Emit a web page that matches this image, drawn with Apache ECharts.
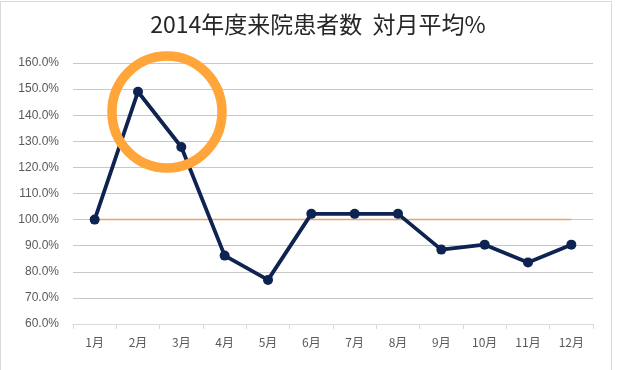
<!DOCTYPE html>
<html><head><meta charset="utf-8">
<script src="https://cdn.jsdelivr.net/npm/echarts@6/dist/echarts.min.js"></script>
<style>html,body{margin:0;padding:0;background:#fff}#c{width:636px;height:370px}</style>
</head><body><div id="c"></div>
<script>
const titleText = '2014年度来院患者数  対月平均%';
const months = ['1月','2月','3月','4月','5月','6月','7月','8月','9月','10月','11月','12月'];
const ratio = [100.0, 149.0, 127.8, 86.2, 76.9, 102.2, 102.2, 102.2, 88.5, 90.4, 83.6, 90.4];
const baseline = [100,100,100,100,100,100,100,100,100,100,100,100];
const yMin = 60, yMax = 160, yStep = 10;

const chart = echarts.init(document.getElementById('c'));
chart.setOption({
  animation: false,
  title: {
    text: titleText, left: 'center', top: 8,
    textStyle: {fontFamily: 'Noto Sans CJK JP', fontSize: 23, fontWeight: 'normal', color: '#262626'}
  },
  grid: {left: 73, right: 43, top: 63, bottom: 46},
  xAxis: {
    type: 'category', data: months, boundaryGap: true,
    axisLine: {lineStyle: {color: '#d9d9d9'}},
    axisTick: {show: true, length: 5, lineStyle: {color: '#d9d9d9'}},
    axisLabel: {color: '#595959', fontSize: 12, margin: 12, fontFamily: 'Noto Sans CJK JP'}
  },
  yAxis: {
    type: 'value', min: yMin, max: yMax, interval: yStep,
    axisLine: {show: false}, axisTick: {show: false},
    splitLine: {lineStyle: {color: '#c8c8c8', width: 1}},
    axisLabel: {color: '#595959', fontSize: 12, margin: 14, fontFamily: 'Liberation Sans',
      formatter: v => v.toFixed(1) + '%'}
  },
  series: [
    {type: 'line', data: baseline, symbol: 'none', z: 2,
     lineStyle: {color: '#E7A46C', width: 1.5}},
    {type: 'line', data: ratio, symbol: 'circle', symbolSize: 10, z: 3,
     lineStyle: {color: '#0E2352', width: 3.8},
     itemStyle: {color: '#0E2352'}}
  ],
  graphic: [
    {type: 'rect', shape: {x: 0.5, y: 1.5, width: 611, height: 380},
     style: {fill: 'none', stroke: '#d9d9d9', lineWidth: 1}, z: 0},
    {type: 'ellipse', shape: {cx: 167, cy: 112, rx: 55, ry: 56},
     style: {fill: 'none', stroke: '#FFA53A', lineWidth: 9.5}, z: 10}
  ]
});
</script></body></html>
